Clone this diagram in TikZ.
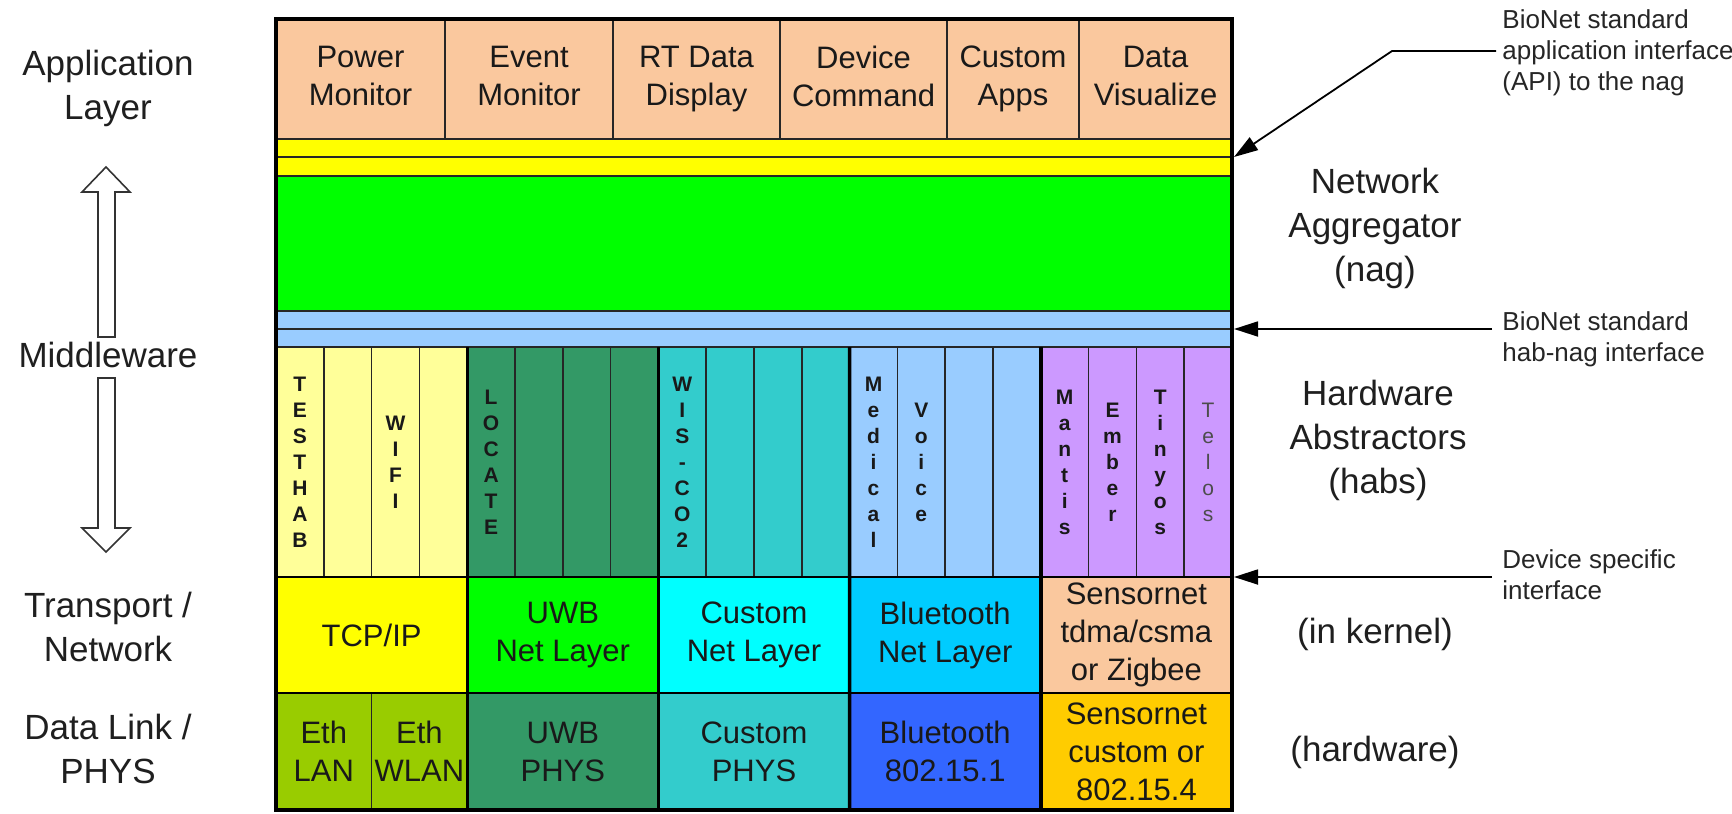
\documentclass[tikz,border=0pt]{standalone}
\usepackage{fontspec}
\setmainfont{Liberation Sans}
\usetikzlibrary{arrows.meta}

\definecolor{apppeach}{RGB}{250,200,158}
\definecolor{bandyellow}{RGB}{255,255,0}
\definecolor{naggreen}{RGB}{0,255,0}
\definecolor{bandblue}{RGB}{153,204,255}
\definecolor{habyellow}{RGB}{255,255,153}
\definecolor{seagreen}{RGB}{51,153,102}
\definecolor{tealc}{RGB}{51,204,204}
\definecolor{habpurple}{RGB}{204,153,255}
\definecolor{netcyan}{RGB}{0,255,255}
\definecolor{btnet}{RGB}{0,204,255}
\definecolor{ethgreen}{RGB}{153,204,0}
\definecolor{btphy}{RGB}{51,102,255}
\definecolor{goldc}{RGB}{255,204,0}

\tikzset{
  cell/.style={draw=black!85, line width=0.8pt, inner sep=0pt, outer sep=0pt,
    anchor=north west, align=center, text=black!90,
    font=\fontsize{15.5}{19}\selectfont},
  stack/.style={inner sep=0pt, align=center, text=black!90,
    font=\bfseries\fontsize{10.5}{13}\selectfont},
  layerlabel/.style={align=center, inner sep=0pt, text=black!88,
    font=\fontsize{17.5}{22}\selectfont},
  annot/.style={align=left, inner sep=0pt, anchor=north west, text=black!85,
    font=\fontsize{13}{15.5}\selectfont},
  annarrow/.style={draw=black, line width=0.9pt, -{Triangle[length=12pt,width=7.5pt]}},
  hollow/.style={draw=black!80, line width=0.8pt, fill=white, line join=miter},
  outerframe/.style={draw=black, line width=2pt},
  groupline/.style={draw=black, line width=1.7pt},
}

% \cellbox{name}{x1}{y1}{x2}{y2}{fill}{text}
\newcommand\cellbox[7]{%
  \pgfmathsetmacro\cw{(#4-#2)*0.5}%
  \pgfmathsetmacro\ch{(#5-#3)*0.5}%
  \node[cell, fill=#6, minimum width=\cw pt, minimum height=\ch pt] (#1) at (#2,#3) {#7};%
}

\begin{document}
\begin{tikzpicture}[x=0.5pt,y=-0.5pt]
\useasboundingbox (0,0) rectangle (1732,813);
\fill[white] (0,0) rectangle (1732,813);

% application row
\cellbox{app-power}{276}{19}{445}{139}{apppeach}{Power\\Monitor\vphantom{y}}
\cellbox{app-event}{445}{19}{613}{139}{apppeach}{Event\\Monitor\vphantom{y}}
\cellbox{app-rt}{613}{19}{780}{139}{apppeach}{RT Data\\Display}
\cellbox{app-dev}{780}{19}{947}{139}{apppeach}{Device\\Command\vphantom{y}}
\cellbox{app-custom}{947}{19}{1079}{139}{apppeach}{Custom\\Apps}
\cellbox{app-vis}{1079}{19}{1232}{139}{apppeach}{Data\\Visualize\vphantom{y}}

% API bands, aggregator, hab-nag bands
\cellbox{api-band-a}{276}{139}{1232}{157}{bandyellow}{}
\cellbox{api-band-b}{276}{157}{1232}{176}{bandyellow}{}
\cellbox{nag}{276}{176}{1232}{311}{naggreen}{}
\cellbox{hn-band-a}{276}{311}{1232}{329}{bandblue}{}
\cellbox{hn-band-b}{276}{329}{1232}{347}{bandblue}{}

% hardware abstractor columns
\foreach \g/\hc in {0/habyellow,1/seagreen,2/tealc,3/bandblue,4/habpurple}{
  \foreach \c in {0,1,2,3}{
    \pgfmathsetmacro\xa{276+\g*191.2+\c*47.8}
    \pgfmathsetmacro\xb{\xa+47.8}
    \cellbox{hab-\g-\c}{\xa}{347}{\xb}{577}{\hc}{}
  }
}

% transport / network row
\cellbox{tr-tcp}{276}{577}{467.2}{693}{bandyellow}{TCP/IP}
\cellbox{tr-uwb}{467.2}{577}{658.4}{693}{naggreen}{UWB\\Net Layer}
\cellbox{tr-custom}{658.4}{577}{849.6}{693}{netcyan}{Custom\\Net Layer}
\cellbox{tr-bt}{849.6}{577}{1040.8}{693}{btnet}{Bluetooth\\Net Layer}
\cellbox{tr-sensor}{1040.8}{577}{1232}{693}{apppeach}{Sensornet\\tdma/csma\\or Zigbee}

% data link / phys row
\cellbox{dl-lan}{276}{693}{371.6}{810}{ethgreen}{Eth\\LAN}
\cellbox{dl-wlan}{371.6}{693}{467.2}{810}{ethgreen}{Eth\\WLAN}
\cellbox{dl-uwb}{467.2}{693}{658.4}{810}{seagreen}{UWB\\PHYS}
\cellbox{dl-custom}{658.4}{693}{849.6}{810}{tealc}{Custom\\PHYS}
\cellbox{dl-bt}{849.6}{693}{1040.8}{810}{btphy}{Bluetooth\\802.15.1}
\cellbox{dl-sensor}{1040.8}{693}{1232}{810}{goldc}{Sensornet\\custom or\\802.15.4}

% vertical hab names
\node[stack] (txt-testhab) at (hab-0-0) {T\\E\\S\\T\\H\\A\\B};
\node[stack] (txt-wifi) at (hab-0-2) {W\\I\\F\\I};
\node[stack] (txt-locate) at (hab-1-0) {L\\O\\C\\A\\T\\E};
\node[stack] (txt-wisco) at (hab-2-0) {W\\I\\S\\-\\C\\O\\2};
\node[stack] (txt-medical) at (hab-3-0) {M\\e\\d\\i\\c\\a\\l};
\node[stack] (txt-voice) at (hab-3-1) {V\\o\\i\\c\\e};
\node[stack] (txt-mantis) at (hab-4-0) {M\\a\\n\\t\\i\\s};
\node[stack] (txt-ember) at (hab-4-1) {E\\m\\b\\e\\r};
\node[stack] (txt-tinyos) at (hab-4-2) {T\\i\\n\\y\\o\\s};
\node[stack, font=\fontsize{10.5}{13}\selectfont, text=black!70] (txt-telos) at (hab-4-3) {T\\e\\l\\o\\s};

% group dividers and outer frame
\draw[groupline] (hab-1-0.north west) -- (dl-uwb.south west);
\draw[groupline] (hab-2-0.north west) -- (dl-custom.south west);
\draw[groupline] (hab-3-0.north west) -- (dl-bt.south west);
\draw[groupline] (hab-4-0.north west) -- (dl-sensor.south west);
\draw[line width=1.1pt] (tr-tcp.north west) -- (tr-sensor.north east);
\draw[line width=1.1pt] (dl-lan.north west) -- (dl-sensor.north east);
\draw[outerframe] (app-power.north west) rectangle (dl-sensor.south east);

% layer names on the left
\node[layerlabel] (lbl-app) at (108,88) {Application\\Layer};
\node[layerlabel] (lbl-mid) at (108,355) {Middleware};
\node[layerlabel] (lbl-tr) at (108,627) {Transport /\\Network};
\node[layerlabel] (lbl-dl) at (108,749) {Data Link /\\PHYS};

% hollow double arrow through the middleware label
\draw[hollow] (106,167) -- (130,192) -- (115,192) -- (115,337) -- (98,337)
  -- (98,192) -- (82,192) -- cycle;
\draw[hollow] (98,378) -- (115,378) -- (115,528) -- (130,528) -- (106,552)
  -- (82,528) -- (98,528) -- cycle;

% component names on the right
\node[layerlabel] (lbl-nag) at (1375,228) {Network\\Aggregator\\(nag)};
\node[layerlabel] (lbl-habs) at (1378,440) {Hardware\\Abstractors\\(habs)};
\node[layerlabel] (lbl-kernel) at (1375,634) {(in kernel)};
\node[layerlabel] (lbl-hw) at (1375,752) {(hardware)};

% interface annotations
\node[annot] (ann-api) at (1502,9) {BioNet standard\\application interface\\(API) to the nag};
\node[annot] (ann-habnag) at (1502,311) {BioNet standard\\hab-nag interface};
\node[annot] (ann-dev) at (1502,549) {Device specific\\interface};

\coordinate (api-from) at (1496,51);
\coordinate (api-bend) at (1392,51);
\coordinate (hn-from) at (1492,329);
\coordinate (dev-from) at (1492,577);
\draw[annarrow] (api-from) -- (api-bend) -- ([xshift=1pt]api-band-a.south east);
\draw[annarrow] (hn-from) -- ([xshift=1pt]hn-band-a.south east);
\draw[annarrow] (dev-from) -- ([xshift=1pt]hab-4-3.south east);
\end{tikzpicture}
\end{document}
